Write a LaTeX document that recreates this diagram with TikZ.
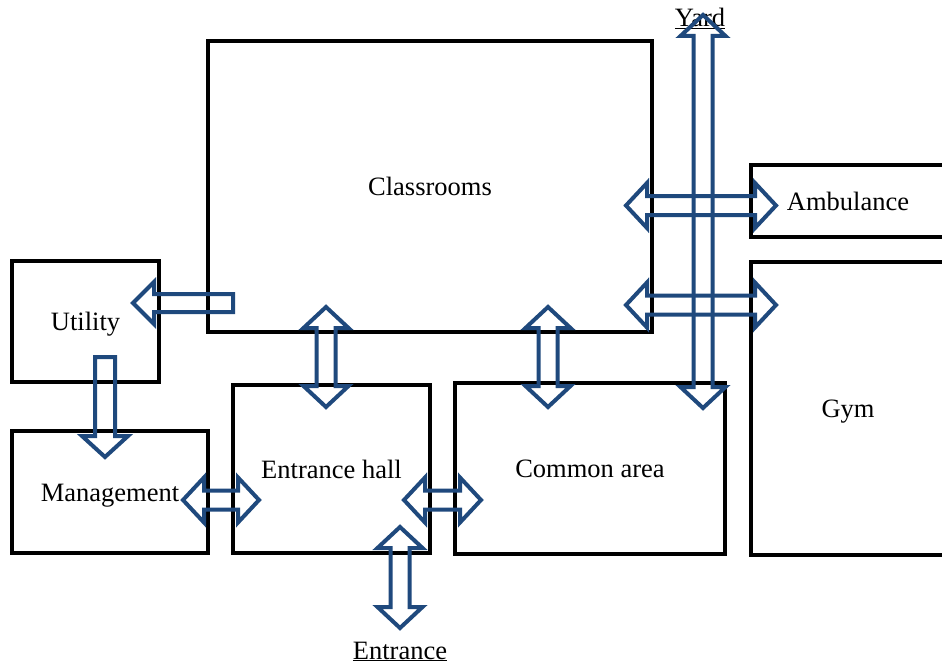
\documentclass[tikz,border=0pt]{standalone}
\usepackage{fontspec}
\setmainfont{Liberation Serif}
\definecolor{arrblue}{RGB}{31,73,125}
\def\bsh{9.5}
\def\bhh{22.5}
\def\bhl{21}
\newcommand\ArrVD[3]{\draw[blk] (#1,#2) -- ({#1+\bhh},{#2+\bhl}) -- ({#1+\bsh},{#2+\bhl}) -- ({#1+\bsh},{#3-\bhl}) -- ({#1+\bhh},{#3-\bhl}) -- (#1,#3) -- ({#1-\bhh},{#3-\bhl}) -- ({#1-\bsh},{#3-\bhl}) -- ({#1-\bsh},{#2+\bhl}) -- ({#1-\bhh},{#2+\bhl}) -- cycle;}
\newcommand\ArrHD[3]{\draw[blk] (#2,#1) -- ({#2+\bhl},{#1-\bhh}) -- ({#2+\bhl},{#1-\bsh}) -- ({#3-\bhl},{#1-\bsh}) -- ({#3-\bhl},{#1-\bhh}) -- (#3,#1) -- ({#3-\bhl},{#1+\bhh}) -- ({#3-\bhl},{#1+\bsh}) -- ({#2+\bhl},{#1+\bsh}) -- ({#2+\bhl},{#1+\bhh}) -- cycle;}
\begin{document}
\begin{tikzpicture}[x=1pt,y=-1pt,
  room/.style={draw=black,line width=4pt,rectangle,inner sep=0pt,
    text height=18pt,text depth=0pt,
    font=\fontsize{26.5}{30}\selectfont},
  lbl/.style={inner sep=0pt,font=\fontsize{26.5}{30}\selectfont},
  blk/.style={draw=arrblue,line width=4pt,line join=miter}]
\clip (0,0) rectangle (942,666);
\fill[white] (0,0) rectangle (942,666);
% rooms
\node[room,minimum width=444pt,minimum height=291pt] (class) at (430,186.5) {Classrooms};
\node[room,minimum width=147pt,minimum height=121pt] (util) at (85.5,321.5) {Utility};
\node[room,minimum width=196pt,minimum height=122pt] (mgmt) at (110,492) {Management};
\node[room,minimum width=197pt,minimum height=168pt] (hall) at (331.5,469) {Entrance hall};
\node[room,minimum width=270pt,minimum height=171pt] (common) at (590,468.5) {Common area};
\node[room,minimum width=194pt,minimum height=72pt] (amb) at (848,201) {Ambulance};
\node[room,minimum width=194pt,minimum height=293pt] (gym) at (848,408.5) {Gym};
% outside labels
\node[lbl,anchor=base] (yard) at (700,27) {\underline{Yard}};
\node[lbl,anchor=base] (entr) at (400,659) {\underline{Entrance}};
% block arrows
\ArrVD{703}{15}{408}
\ArrHD{205.5}{626}{776}
\ArrHD{305}{626}{776}
\ArrVD{326}{307}{407}
\ArrVD{548}{307}{407}
\ArrHD{500}{183}{259}
\ArrHD{500}{404}{481}
\ArrVD{400}{527}{628}
\draw[blk] (133,303) -- (154,282) -- (154,294) -- (233,294) -- (233,312) -- (154,312) -- (154,324) -- cycle;
\draw[blk] (105,457) -- (128,436) -- (115,436) -- (115,357) -- (95,357) -- (95,436) -- (82,436) -- cycle;
\end{tikzpicture}
\end{document}
